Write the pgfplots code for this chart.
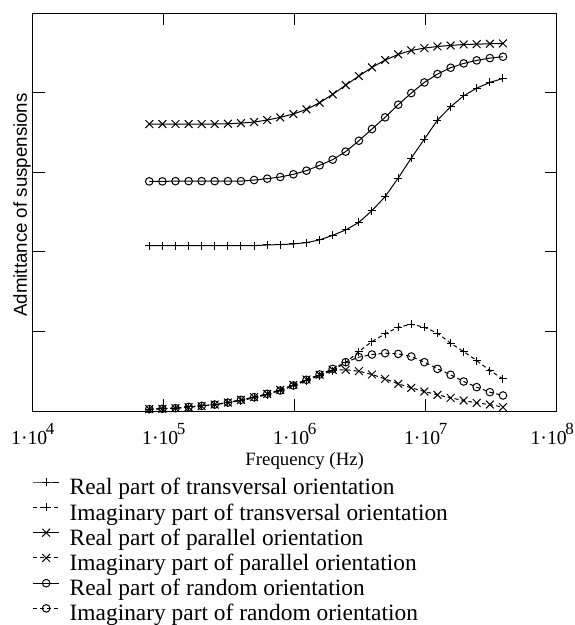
\documentclass[border=0pt]{standalone}
\usepackage{pgfplots}
\usepackage{pgfplotstable}
\pgfplotsset{compat=1.18}
\usepackage{fontspec}
\setmainfont{Liberation Serif}
\setsansfont{Liberation Sans}
\newcommand{\tl}[1]{1·10\kern-1.5pt\raisebox{10pt}{\fontsize{17}{17}\selectfont #1}}

\pgfplotstableread{
f        retr   imtr   repa   impa   rera   imra
7.76e4   2.079  0.023  3.608  0.023  2.887  0.023
9.77e4   2.079  0.031  3.608  0.027  2.887  0.027
1.23e5   2.079  0.035  3.608  0.035  2.890  0.035
1.55e5   2.079  0.052  3.608  0.048  2.890  0.052
1.95e5   2.079  0.064  3.608  0.060  2.890  0.064
2.45e5   2.079  0.081  3.608  0.081  2.890  0.081
3.09e5   2.079  0.106  3.612  0.106  2.890  0.106
3.89e5   2.079  0.132  3.620  0.140  2.890  0.140
4.90e5   2.079  0.165  3.633  0.174  2.904  0.174
6.17e5   2.088  0.207  3.658  0.216  2.921  0.216
7.76e5   2.092  0.258  3.692  0.266  2.942  0.258
9.77e5   2.100  0.316  3.734  0.329  2.976  0.321
1.23e6   2.117  0.383  3.792  0.396  3.022  0.392
1.55e6   2.151  0.446  3.876  0.455  3.089  0.459
1.95e6   2.209  0.509  3.981  0.518  3.160  0.530
2.45e6   2.276  0.610  4.097  0.518  3.261  0.614
3.09e6   2.372  0.747  4.211  0.501  3.398  0.677
3.89e6   2.519  0.873  4.320  0.459  3.545  0.710
4.90e6   2.695  0.970  4.412  0.404  3.692  0.727
6.17e6   2.929  1.053  4.483  0.341  3.851  0.718
7.76e6   3.180  1.091  4.533  0.291  3.997  0.685
9.77e6   3.419  1.053  4.562  0.245  4.131  0.614
1.23e7   3.657  0.978  4.583  0.203  4.236  0.530
1.55e7   3.825  0.852  4.596  0.165  4.316  0.455
1.95e7   3.963  0.747  4.608  0.132  4.370  0.371
2.45e7   4.059  0.634  4.612  0.102  4.408  0.300
3.09e7   4.131  0.509  4.617  0.081  4.437  0.237
3.89e7   4.181  0.404  4.621  0.048  4.454  0.195
}\datatable

\begin{document}
\begin{tikzpicture}
\begin{axis}[name=ax, scale only axis, width=524pt, height=397.7pt,
  xmode=log, xmin=1e4, xmax=1e8, ymin=0, ymax=5,
  xtick={1e4,1e5,1e6,1e7,1e8},
  xticklabels={\tl{4},\tl{5},\tl{6},\tl{7},\kern-9pt\tl{8}},
  xminorticks=false,
  ytick={1,2,3,4}, yticklabels={},
  tick align=inside, major tick length=12pt,
  axis line style={line width=1pt},
  every tick/.style={line width=0.9pt, black},
  xticklabel style={font=\fontsize{19.7}{20}\selectfont, anchor=base, yshift=-33pt},
  xlabel={Frequency (Hz)},
  xlabel style={font=\fontsize{18.8}{20}\selectfont, at={(axis description cs:0.5,0)}, anchor=base, xshift=10pt, yshift=-54pt},
  ylabel={Admittance of suspensions},
  ylabel style={font=\sffamily\fontsize{18.7}{20}\selectfont, at={(axis description cs:-0.0109,0.518)}, anchor=base, rotate=0},
  legend image code/.code={\draw[mark repeat=2,mark phase=2,#1] plot coordinates {(0pt,9pt) (13pt,9pt) (26pt,9pt)};},
  legend cell align=left,
  legend style={at={(axis description cs:0,0)}, anchor=north west, yshift=-67pt,
    draw=none, fill=none, inner sep=0pt, outer sep=0pt, row sep=0pt, column sep=10pt,
    font=\fontsize{23.4}{24.8}\selectfont,
    nodes={inner sep=0pt, text height=16pt, text depth=8.8pt}},
  every axis plot/.append style={black, line width=1pt},
  imag/.style={dash pattern=on 4pt off 3pt},
]
\addplot[mark=+, mark size=4pt] table[x=f, y=retr] {\datatable};
\addlegendentry{Real part of transversal orientation}
\addplot[imag, mark=+, mark size=4pt, mark options={solid}] table[x=f, y=imtr] {\datatable};
\addlegendentry{Imaginary part of transversal orientation}
\addplot[mark=x, mark size=5.5pt] table[x=f, y=repa] {\datatable};
\addlegendentry{Real part of parallel orientation}
\addplot[imag, mark=x, mark size=5.5pt, mark options={solid}] table[x=f, y=impa] {\datatable};
\addlegendentry{Imaginary part of parallel orientation}
\addplot[mark=o, mark size=3.8pt] table[x=f, y=rera] {\datatable};
\addlegendentry{Real part of random orientation}
\addplot[imag, mark=o, mark size=3.8pt, mark options={solid}] table[x=f, y=imra] {\datatable};
\addlegendentry{Imaginary part of random orientation}
\end{axis}
\pgfresetboundingbox
\path[use as bounding box] ([shift={(-32.7pt,-214pt)}]ax.south west) rectangle ([shift={(542.3pt,411pt)}]ax.south west);
\end{tikzpicture}
\end{document}
